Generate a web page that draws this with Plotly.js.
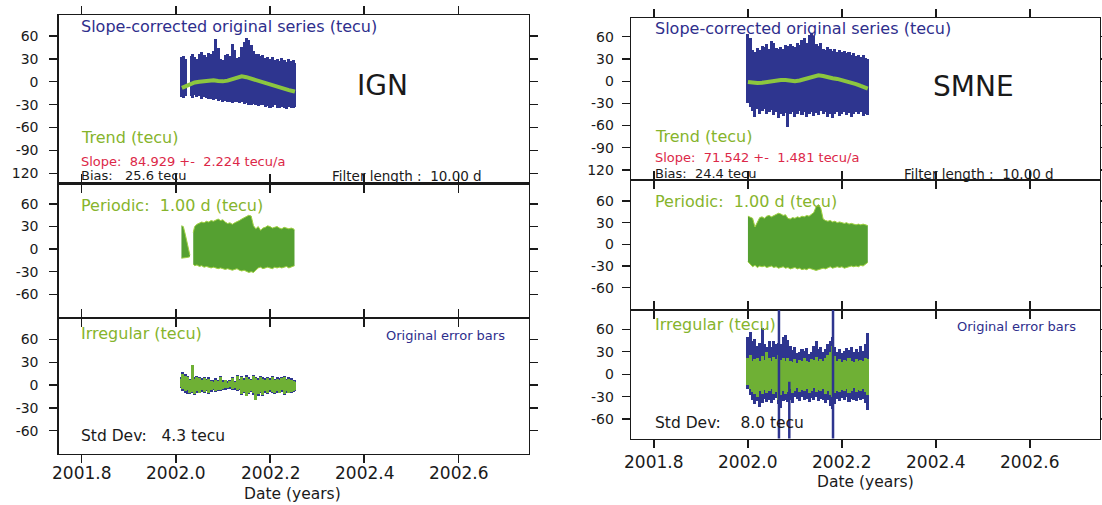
<!DOCTYPE html>
<html><head><meta charset="utf-8">
<script src="https://cdn.plot.ly/plotly-3.0.1.min.js"></script>
<style>html,body{margin:0;padding:0;background:#fff;}#chart{width:1102px;height:505px;}</style>
</head><body><div id="chart"></div>
<script>
// ---------------- DATA ----------------
const xTickVals = [2001.8, 2002.0, 2002.2, 2002.4, 2002.6];
const xTickText = ['2001.8', '2002.0', '2002.2', '2002.4', '2002.6'];
const yTickValsTop = [60, 30, 0, -30, -60, -90, -120];
const yTickTextTop = ['60', '30', '0', '-30', '-60', '-90', '120'];
const yTickValsLow = [60, 30, 0, -30, -60];
const yTickTextLow = ['60', '30', '0', '-30', '-60'];

// IGN - slope-corrected original series (envelope)
const ignOrigT0 = [2002.012, 2002.017, 2002.021];
const ignOrigUp0 = [33, 34, 30];
const ignOrigLo0 = [-20, -21, -19];
const ignOrigT = [2002.033, 2002.035, 2002.040, 2002.045, 2002.050, 2002.055, 2002.060, 2002.065, 2002.070, 2002.075,
  2002.080, 2002.085, 2002.090, 2002.095, 2002.100, 2002.105, 2002.110, 2002.115, 2002.120, 2002.125,
  2002.130, 2002.135, 2002.140, 2002.145, 2002.150, 2002.155, 2002.160, 2002.165, 2002.170, 2002.175,
  2002.180, 2002.185, 2002.190, 2002.195, 2002.200, 2002.205, 2002.210, 2002.215, 2002.220, 2002.225,
  2002.230, 2002.235, 2002.240, 2002.245, 2002.250, 2002.252];
const ignOrigUp = [34,36,33,30,37,39,35,32,38,37,40,56,44,30,29,35,37,34,49,42,31,33,46,52,58,55,48,40,36,37,34,35,31,33,30,32,28,30,27,31,29,26,30,27,28,25];
const ignOrigLo = [-19,-21,-18,-20,-19,-22,-20,-21,-23,-22,-24,-23,-25,-24,-26,-25,-27,-26,-28,-27,-26,-28,-27,-29,-28,-30,-31,-29,-30,-32,-30,-31,-33,-32,-34,-33,-31,-34,-35,-33,-34,-36,-33,-35,-34,-33];
// IGN - trend
const ignTrendT = [2002.013, 2002.020, 2002.030, 2002.040, 2002.050, 2002.060, 2002.070, 2002.080, 2002.090, 2002.100,
  2002.110, 2002.120, 2002.130, 2002.140, 2002.150, 2002.160, 2002.170, 2002.180, 2002.190, 2002.200,
  2002.210, 2002.220, 2002.230, 2002.240, 2002.250, 2002.253];
const ignTrend = [-8,-6,-3,-1,0,1,1.5,2,1,0.5,1.5,3,5.5,7,6,4,2,0,-2,-4,-5.5,-7,-9,-11,-12.5,-13];
// IGN - periodic (envelope)
const ignPerT0 = [2002.012, 2002.016, 2002.020, 2002.025, 2002.030];
const ignPerUp0 = [31, 30, 20, 5, -8];
const ignPerLo0 = [-12, -12, -12, -11, -10];
const ignPerT = [2002.037, 2002.040, 2002.045, 2002.050, 2002.055, 2002.060, 2002.065, 2002.070, 2002.075, 2002.080,
  2002.085, 2002.090, 2002.095, 2002.100, 2002.105, 2002.110, 2002.115, 2002.120, 2002.125, 2002.130,
  2002.135, 2002.140, 2002.145, 2002.150, 2002.155, 2002.160, 2002.165, 2002.170, 2002.175, 2002.180,
  2002.185, 2002.190, 2002.195, 2002.200, 2002.205, 2002.210, 2002.215, 2002.220, 2002.225, 2002.230,
  2002.235, 2002.240, 2002.245, 2002.250, 2002.252];
const ignPerUp = [22,30,33,34,36,35,37,36,38,37,38,40,38,39,36,34,35,33,35,36,38,40,42,43,45,44,31,27,30,25,28,29,31,30,28,29,30,28,27,29,28,27,28,27,25];
const ignPerLo = [-20,-22,-21,-23,-22,-24,-23,-24,-25,-24,-25,-26,-25,-26,-27,-26,-27,-28,-27,-26,-28,-29,-28,-30,-31,-30,-31,-28,-25,-24,-26,-25,-24,-25,-26,-24,-25,-24,-25,-24,-23,-25,-24,-23,-22];
// IGN - irregular (green) and original error bars (blue)
const ignIrrT = [2002.013, 2002.015, 2002.020, 2002.025, 2002.030, 2002.035, 2002.040, 2002.045, 2002.050, 2002.055,
  2002.060, 2002.065, 2002.070, 2002.075, 2002.080, 2002.085, 2002.090, 2002.095, 2002.100, 2002.105,
  2002.110, 2002.115, 2002.120, 2002.125, 2002.130, 2002.135, 2002.140, 2002.145, 2002.150, 2002.155,
  2002.160, 2002.165, 2002.170, 2002.175, 2002.180, 2002.185, 2002.190, 2002.195, 2002.200, 2002.205,
  2002.210, 2002.215, 2002.220, 2002.225, 2002.230, 2002.235, 2002.240, 2002.245, 2002.250, 2002.253];
const ignIrrUp = [8,15,12,10,6,26,8,10,9,7,9,6,8,5,4,7,5,10,4,6,3,5,9,4,12,6,10,7,11,8,6,12,9,7,10,8,6,9,7,10,6,8,7,9,11,6,8,7,5,4];
const ignIrrLo = [-2,-5,-8,-6,-10,-9,-12,-8,-10,-7,-9,-6,-11,-7,-5,-8,-6,-7,-5,-4,-4,-3,-5,-4,-6,-5,-12,-9,-14,-10,-8,-11,-20,-12,-9,-13,-8,-10,-7,-9,-11,-8,-10,-7,-12,-8,-10,-9,-8,-6];
const ignErrUp = [10,17,14,12,8,8,10,12,11,9,11,8,10,7,6,9,7,12,6,7,5,6,11,5,13,8,12,9,13,10,8,13,11,9,12,10,9,11,9,12,8,10,9,11,12,8,10,9,7,6];
const ignErrLo = [-4,-8,-11,-12,-12,-11,-13,-10,-11,-9,-10,-8,-12,-9,-7,-9,-8,-8,-6,-6,-5,-5,-6,-6,-8,-7,-13,-10,-15,-12,-9,-13,-18,-14,-11,-14,-10,-12,-9,-11,-12,-10,-11,-9,-13,-10,-11,-10,-9,-8];

// SMNE - common time grid
const smneT = [2002.000, 2002.005, 2002.010, 2002.015, 2002.020, 2002.025, 2002.030, 2002.035, 2002.040, 2002.045,
  2002.050, 2002.055, 2002.060, 2002.065, 2002.070, 2002.075, 2002.080, 2002.085, 2002.090, 2002.095,
  2002.100, 2002.105, 2002.110, 2002.115, 2002.120, 2002.125, 2002.130, 2002.135, 2002.140, 2002.145,
  2002.150, 2002.155, 2002.160, 2002.165, 2002.170, 2002.175, 2002.180, 2002.185, 2002.190, 2002.195,
  2002.200, 2002.205, 2002.210, 2002.215, 2002.220, 2002.225, 2002.230, 2002.235, 2002.240, 2002.245,
  2002.250, 2002.255];
const smneOrigUp = [64,58,42,40,45,42,48,46,50,44,54,52,45,43,46,44,49,47,50,48,46,51,49,55,58,52,63,65,61,50,48,52,44,42,46,43,41,44,40,42,39,41,38,40,36,38,34,36,33,35,31,30];
const smneOrigLo = [-30,-35,-40,-48,-38,-44,-40,-37,-45,-41,-39,-46,-42,-50,-44,-47,-43,-62,-45,-41,-48,-44,-40,-46,-42,-49,-44,-41,-47,-43,-46,-40,-45,-42,-48,-44,-50,-45,-42,-47,-44,-41,-46,-43,-48,-44,-41,-45,-42,-47,-44,-46];
const smneTrendT = [2002.000, 2002.010, 2002.020, 2002.030, 2002.040, 2002.050, 2002.060, 2002.070, 2002.080, 2002.090,
  2002.100, 2002.110, 2002.120, 2002.130, 2002.140, 2002.150, 2002.160, 2002.170, 2002.180, 2002.190,
  2002.200, 2002.210, 2002.220, 2002.230, 2002.240, 2002.250, 2002.255];
const smneTrend = [-1,-2,-2.5,-2,-1,-0.5,0.5,1.5,1.5,0.5,0,1,2.5,4.5,6.5,8,7,5,4,3,1.5,0,-1.5,-4,-6.5,-9,-10];
const smnePerUp = [39,37,36,24,30,37,38,36,39,40,38,40,41,43,42,40,41,36,35,37,36,38,37,39,38,40,39,41,44,52,55,50,35,33,32,33,31,32,30,31,30,29,30,28,29,28,27,28,27,28,27,26];
const smnePerLo = [-24,-28,-31,-29,-32,-30,-31,-30,-32,-31,-30,-32,-31,-33,-32,-31,-33,-32,-34,-33,-32,-34,-33,-35,-34,-35,-33,-34,-35,-36,-35,-34,-33,-34,-32,-31,-33,-32,-31,-32,-31,-33,-32,-31,-30,-31,-30,-31,-29,-30,-28,-25];
const smneIrrUp = [22,25,18,20,22,17,24,19,30,21,18,23,20,26,19,22,17,21,18,16,20,15,19,17,21,18,16,20,19,23,17,20,18,22,25,30,38,24,18,20,16,19,17,21,18,16,20,17,19,18,22,20];
const smneIrrLo = [-15,-20,-24,-26,-30,-22,-27,-21,-25,-23,-20,-26,-24,-35,-28,-22,-27,-24,-20,-25,-22,-19,-24,-21,-23,-20,-25,-22,-19,-24,-21,-23,-20,-26,-22,-28,-30,-25,-22,-24,-21,-23,-20,-25,-22,-19,-24,-21,-23,-20,-24,-28];
const smneErrUp = [50,56,45,47,38,42,62,40,36,44,37,45,40,42,41,50,53,46,38,32,36,28,30,34,31,35,27,30,38,45,33,36,30,34,40,44,50,36,30,34,28,31,35,32,36,29,33,30,38,31,40,55];
const smneErrLo = [-20,-28,-35,-40,-36,-44,-38,-33,-37,-34,-39,-35,-32,-40,-45,-36,-34,-37,-35,-39,-31,-33,-36,-30,-35,-33,-37,-32,-34,-31,-36,-33,-35,-38,-34,-42,-47,-40,-33,-36,-32,-35,-31,-37,-33,-34,-36,-32,-35,-33,-38,-48];
const smneSpikeT = [2002.066, 2002.088, 2002.181];
const smneSpikeHi = [95, -10, 95];
const smneSpikeLo = [-95, -95, -95];

// ---------------- STYLE ----------------
const BLUE = '#2e358f', GREENL = '#8cc63f', GREENF = '#55a031', GREENE = '#9fd040', GREENI = '#6fb035';
const TXTBLUE = '#2e2e8c', TXTGREEN = '#86b42c', TXTRED = '#dc2848', INK = '#1a1a1a';
const FONT = 'DejaVu Sans';
const W = 1102, H = 505;
const px = v => v / W, py = v => 1 - v / H;
const XR = [2001.751, 2002.749];

// dense vertical bars spanning lower..upper value at each time
function bars(t, up, lo, color, xa, ya, w) {
  return {type:'bar', x:t, base:lo, y: up.map((u, i) => u - lo[i]), width: w || 0.0064,
    marker:{color:color, line:{width:0}}, xaxis:xa, yaxis:ya, hoverinfo:'skip', showlegend:false};
}
// smooth filled band (lower line + upper filled to it)
function band(t, up, lo, color, edge, xa, ya) {
  return [
    {type:'scatter', mode:'lines', x:t, y:lo, line:{color:edge, width:1},
      xaxis:xa, yaxis:ya, hoverinfo:'skip', showlegend:false},
    {type:'scatter', mode:'lines', x:t, y:up, fill:'tonexty', fillcolor:color, line:{color:edge, width:1},
      xaxis:xa, yaxis:ya, hoverinfo:'skip', showlegend:false}
  ];
}
function line(t, v, color, width, xa, ya) {
  return {type:'scatter', mode:'lines', x:t, y:v, line:{color:color, width:width}, xaxis:xa, yaxis:ya, hoverinfo:'skip', showlegend:false};
}
function spikes(t, hi, lo, color, xa, ya) {
  const x = [], y = [];
  t.forEach((v, i) => { x.push(v, v, null); y.push(lo[i], hi[i], null); });
  return {type:'scatter', mode:'lines', x:x, y:y, line:{color:color, width:2.5}, xaxis:xa, yaxis:ya, hoverinfo:'skip', showlegend:false};
}

const traces = [].concat(
  [bars(ignOrigT0, ignOrigUp0, ignOrigLo0, BLUE, 'x', 'y', 0.0056)],
  [bars(ignOrigT, ignOrigUp, ignOrigLo, BLUE, 'x', 'y')],
  [line(ignTrendT, ignTrend, GREENL, 4, 'x', 'y')],
  band(ignPerT0, ignPerUp0, ignPerLo0, GREENF, GREENE, 'x2', 'y2'),
  band(ignPerT, ignPerUp, ignPerLo, GREENF, GREENE, 'x2', 'y2'),
  [bars(ignIrrT, ignErrUp, ignErrLo, BLUE, 'x3', 'y3')],
  [bars(ignIrrT, ignIrrUp, ignIrrLo, GREENI, 'x3', 'y3')],
  [bars(smneT, smneOrigUp, smneOrigLo, BLUE, 'x4', 'y4')],
  [line(smneTrendT, smneTrend, GREENL, 4, 'x4', 'y4')],
  band(smneT, smnePerUp, smnePerLo, GREENF, GREENE, 'x5', 'y5'),
  [bars(smneT, smneErrUp, smneErrLo, BLUE, 'x6', 'y6')],
  [bars(smneT, smneIrrUp, smneIrrLo, GREENI, 'x6', 'y6')],
  [spikes(smneSpikeT, smneSpikeHi, smneSpikeLo, BLUE, 'x6', 'y6')]
);

function xa(dom, anchor) {
  return {domain: dom, anchor: anchor, range: XR, tickvals: xTickVals, ticktext: xTickText,
    showticklabels: false, ticks:'outside', ticklen:8, tickwidth:1.5, tickcolor:INK,
    showline:true, linecolor:INK, linewidth:1.2, mirror:'ticks', showgrid:false, zeroline:false, fixedrange:true};
}
function ya(dom, anchor, range, vals, text, standoff) {
  return {domain: dom, anchor: anchor, range: range, tickvals: vals, ticktext: text,
    ticks:'outside', ticklen:8, tickwidth:1.3, tickcolor:INK,
    showline:true, linecolor:INK, linewidth:1.2, mirror:'ticks', showgrid:false, zeroline:false,
    tickfont:{family:FONT, size:14, color:INK}, ticklabelstandoff: standoff, fixedrange:true};
}

const LX = [px(58.5), px(528.6)], RX = [px(630.9), px(1100)];
const layout = {
  width: W, height: H, margin:{l:0, r:0, t:0, b:0}, paper_bgcolor:'#fff', plot_bgcolor:'#fff', showlegend:false,
  barmode:'overlay', bargap:0,
  xaxis:  xa(LX, 'y'),
  xaxis2: xa(LX, 'y2'),
  xaxis3: xa(LX, 'y3'),
  xaxis4: xa(RX, 'y4'),
  xaxis5: xa(RX, 'y5'),
  xaxis6: xa(RX, 'y6'),
  yaxis:  ya([py(183.5), py(15)],  'x',  [-133.4, 87.5], yTickValsTop, yTickTextTop, 8),
  yaxis2: ya([py(318), py(183.5)], 'x2', [-91.5, 87.2],  yTickValsLow, yTickTextLow, 8),
  yaxis3: ya([py(454), py(318)],   'x3', [-90.6, 88],    yTickValsLow, yTickTextLow, 8),
  yaxis4: ya([py(180), py(18.3)],  'x4', [-133.5, 84.9], yTickValsTop, yTickTextTop, 5),
  yaxis5: ya([py(310), py(180)],   'x5', [-90.8, 89],    yTickValsLow, yTickTextLow, 5),
  yaxis6: ya([py(438.5), py(310)], 'x6', [-86, 85.8],    yTickValsLow, yTickTextLow, 5),
  annotations: []
};

function ann(text, x, y, color, size, anchor) {
  layout.annotations.push({text: text, xref:'paper', yref:'paper', x: px(x), y: py(y),
    xanchor: anchor || 'left', yanchor:'middle', showarrow:false, borderpad:0,
    font:{family:FONT, size:size, color:color}});
}
// x tick labels placed on the data axes of the bottom panels
function xLabels(xref, y) {
  xTickVals.forEach((v, i) => layout.annotations.push({text: xTickText[i], xref: xref, yref:'paper', x: v, y: py(y),
    xanchor:'center', yanchor:'middle', showarrow:false, borderpad:0, font:{family:FONT, size:17, color:INK}}));
}
xLabels('x3', 472.5);
xLabels('x6', 461.5);

const S = '\u00a0';
// left column
ann('Slope-corrected original series (tecu)', 80, 26.7, TXTBLUE, 16);
ann('IGN', 382, 85, INK, 28, 'center');
ann('Trend (tecu)', 80, 137, TXTGREEN, 16);
ann('Slope:' + S + ' 84.929 +-' + S + ' 2.224 tecu/a', 80, 161.5, TXTRED, 13);
ann('Bias:' + S + S + ' 25.6 tecu', 80, 175.5, INK, 13);
ann('Filter length :' + S + ' 10.00 d', 331, 175.5, INK, 13.5);
ann('Periodic:' + S + ' 1.00 d (tecu)', 80, 205, TXTGREEN, 16);
ann('Irregular (tecu)', 80, 333.3, TXTGREEN, 16);
ann('Original error bars', 385, 335, TXTBLUE, 13);
ann('Std Dev:' + S + S + ' 4.3 tecu', 80, 436, INK, 15.5);
ann('Date (years)', 292.7, 493.5, INK, 15.5, 'center');
// right column
ann('Slope-corrected original series (tecu)', 654, 28.3, TXTBLUE, 16);
ann('SMNE', 973, 86.7, INK, 28, 'center');
ann('Trend (tecu)', 654, 136, TXTGREEN, 16);
ann('Slope:' + S + ' 71.542 +-' + S + ' 1.481 tecu/a', 654, 157.8, TXTRED, 13);
ann('Bias:' + S + ' 24.4 tecu', 654, 173.8, INK, 13);
ann('Filter length :' + S + ' 10.00 d', 903, 173.8, INK, 13.5);
ann('Periodic:' + S + ' 1.00 d (tecu)', 654, 201, TXTGREEN, 16);
ann('Irregular (tecu)', 654, 324, TXTGREEN, 16);
ann('Original error bars', 956, 326, TXTBLUE, 13);
ann('Std Dev:' + S + S + S + ' 8.0 tecu', 654, 423.3, INK, 15.5);
ann('Date (years)', 865, 481.5, INK, 15.5, 'center');

Plotly.newPlot('chart', traces, layout, {staticPlot:true, displayModeBar:false});
</script>
</body></html>
